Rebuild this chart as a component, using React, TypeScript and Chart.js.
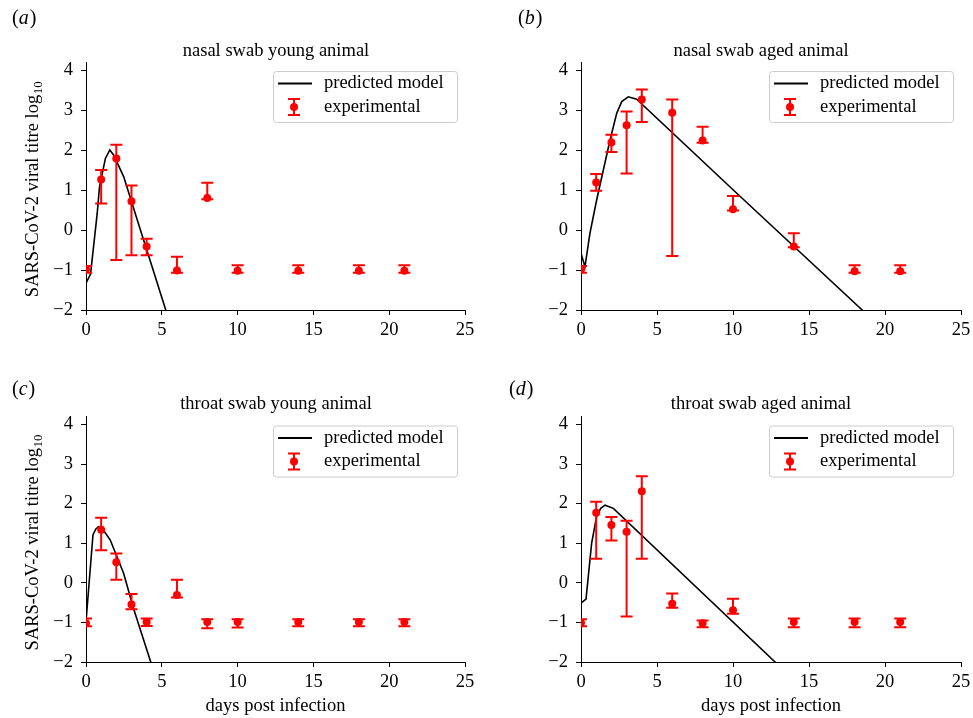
import React, { useEffect, useRef } from "react";
import { Chart, registerables } from "chart.js";

Chart.register(...registerables);

const SERIF = '"Liberation Serif", "DejaVu Serif", "Times New Roman", serif';
const RED = "#ff0000";
const FONT_SIZE = 18.5;

// ---------- shared data ----------
const days = [0, 1, 2, 3, 4, 6, 8, 10, 14, 18, 21];
const xTicks = [0, 5, 10, 15, 20, 25];
const yTicks = [-2, -1, 0, 1, 2, 3, 4];
const legendLabels = ["predicted model", "experimental"];
const xAxisTitle = "days post infection";
const yAxisTitleMain = "SARS-CoV-2 viral titre log";
const yAxisTitleSub = "10";
const panelTitles = [
  "nasal swab young animal",
  "nasal swab aged animal",
  "throat swab young animal",
  "throat swab aged animal",
];
const panelLetters = ["a", "b", "c", "d"];

// ---------- (a) nasal swab young ----------
const nasalYoungMean = [-0.98, 1.26, 1.79, 0.72, -0.41, -1.01, 0.8, -1.02, -1.02, -1.02, -1.02];
const nasalYoungHigh = [-0.9, 1.5, 2.13, 1.11, -0.22, -0.67, 1.18, -0.88, -0.88, -0.88, -0.88];
const nasalYoungLow = [-1.07, 0.66, -0.75, -0.63, -0.63, -1.07, 0.77, -1.07, -1.07, -1.07, -1.07];
const nasalYoungModelX = [0, 0.3, 0.74, 0.89, 1.28, 1.57, 1.83, 2.49, 3.59, 4.36, 5.23, 5.6];
const nasalYoungModelY = [-1.33, -1.1, 0.42, 1.08, 1.79, 2.0, 1.87, 1.33, 0.0, -0.92, -1.96, -2.4];

// ---------- (b) nasal swab aged ----------
const nasalAgedMean = [-0.99, 1.19, 2.19, 2.62, 3.26, 2.93, 2.24, 0.52, -0.41, -1.03, -1.03];
const nasalAgedHigh = [-0.9, 1.4, 2.38, 2.96, 3.51, 3.26, 2.58, 0.85, -0.08, -0.88, -0.88];
const nasalAgedLow = [-1.07, 0.98, 1.95, 1.41, 2.7, -0.65, 2.18, 0.49, -0.43, -1.07, -1.07];
const nasalAgedModelX = [0, 0.26, 0.59, 1.03, 1.47, 1.91, 2.35, 2.68, 3.11, 3.66, 10.02, 18.5, 19.0];
const nasalAgedModelY = [-0.58, -0.92, -0.08, 0.75, 1.5, 2.25, 2.92, 3.21, 3.33, 3.27, 1.0, -2.0, -2.18];

// ---------- (c) throat swab young ----------
const throatYoungMean = [-1.02, 1.34, 0.52, -0.55, -0.99, -0.31, -0.99, -0.99, -0.99, -0.99, -0.99];
const throatYoungHigh = [-0.9, 1.64, 0.74, -0.28, -0.9, 0.08, -0.92, -0.92, -0.92, -0.92, -0.92];
const throatYoungLow = [-1.1, 0.82, 0.08, -0.67, -1.09, -0.37, -1.15, -1.13, -1.1, -1.1, -1.1];
const throatYoungModelX = [0, 0.46, 0.65, 0.83, 1.0, 1.2, 1.6, 2.48, 3.13, 4.27, 4.5];
const throatYoungModelY = [-0.98, 1.21, 1.36, 1.42, 1.4, 1.3, 1.08, 0.24, -0.64, -2.0, -2.28];

// ---------- (d) throat swab aged ----------
const throatAgedMean = [-1.01, 1.77, 1.46, 1.29, 2.31, -0.53, -1.02, -0.69, -0.99, -0.99, -0.99];
const throatAgedHigh = [-0.92, 2.05, 1.66, 1.57, 2.69, -0.27, -0.95, -0.4, -0.9, -0.9, -0.9];
const throatAgedLow = [-1.1, 0.61, 1.07, -0.85, 0.61, -0.63, -1.12, -0.78, -1.12, -1.12, -1.12];
const throatAgedModelX = [0, 0.33, 0.7, 1.03, 1.3, 1.58, 2.13, 12.77, 13.2];
const throatAgedModelY = [-0.51, -0.41, 1.0, 1.68, 1.88, 1.96, 1.88, -2.0, -2.16];

type Box = { left: number; top: number; w: number; h: number };
type Area = { l: number; t: number; r: number; b: number };
type PanelSpec = {
  idx: number;
  mean: number[];
  high: number[];
  low: number[];
  modelX: number[];
  modelY: number[];
  box: Box;
  area: Area;
  showYTitle: boolean;
  showXTitle: boolean;
  labelX: number;
  labelBaseline: number;
  titleX: number;
  titleBaseline: number;
};

const panels: PanelSpec[] = [
  {
    idx: 0, mean: nasalYoungMean, high: nasalYoungHigh, low: nasalYoungLow,
    modelX: nasalYoungModelX, modelY: nasalYoungModelY,
    box: { left: 0, top: 0, w: 486, h: 359 }, area: { l: 86, t: 62, r: 465, b: 310 },
    showYTitle: true, showXTitle: false, labelX: 12, labelBaseline: 24, titleX: 276, titleBaseline: 56,
  },
  {
    idx: 1, mean: nasalAgedMean, high: nasalAgedHigh, low: nasalAgedLow,
    modelX: nasalAgedModelX, modelY: nasalAgedModelY,
    box: { left: 486, top: 0, w: 487, h: 359 }, area: { l: 581, t: 62, r: 961, b: 310 },
    showYTitle: false, showXTitle: false, labelX: 518, labelBaseline: 24, titleX: 761, titleBaseline: 56,
  },
  {
    idx: 2, mean: throatYoungMean, high: throatYoungHigh, low: throatYoungLow,
    modelX: throatYoungModelX, modelY: throatYoungModelY,
    box: { left: 0, top: 359, w: 486, h: 359 }, area: { l: 86, t: 416.5, r: 465, b: 662 },
    showYTitle: true, showXTitle: true, labelX: 12, labelBaseline: 395, titleX: 276, titleBaseline: 409,
  },
  {
    idx: 3, mean: throatAgedMean, high: throatAgedHigh, low: throatAgedLow,
    modelX: throatAgedModelX, modelY: throatAgedModelY,
    box: { left: 486, top: 359, w: 487, h: 359 }, area: { l: 581, t: 416.5, r: 961, b: 662 },
    showYTitle: false, showXTitle: true, labelX: 509, labelBaseline: 395, titleX: 761, titleBaseline: 409,
  },
];

const fmt = (v: number | string) => {
  const n = Number(v);
  return n < 0 ? "\u2212" + Math.abs(n) : String(n);
};

function roundRectPath(ctx: CanvasRenderingContext2D, x: number, y: number, w: number, h: number, r: number) {
  ctx.beginPath();
  ctx.moveTo(x + r, y);
  ctx.lineTo(x + w - r, y);
  ctx.arcTo(x + w, y, x + w, y + r, r);
  ctx.lineTo(x + w, y + h - r);
  ctx.arcTo(x + w, y + h, x + w - r, y + h, r);
  ctx.lineTo(x + r, y + h);
  ctx.arcTo(x, y + h, x, y + h - r, r);
  ctx.lineTo(x, y + r);
  ctx.arcTo(x, y, x + r, y, r);
  ctx.closePath();
}

function drawErrorSymbol(ctx: CanvasRenderingContext2D, px: number, y1: number, y2: number, cap: number) {
  ctx.beginPath();
  ctx.moveTo(px, y1);
  ctx.lineTo(px, y2);
  ctx.moveTo(px - cap, y1);
  ctx.lineTo(px + cap, y1);
  ctx.moveTo(px - cap, y2);
  ctx.lineTo(px + cap, y2);
  ctx.stroke();
}

function Panel({ p }: { p: PanelSpec }) {
  const ref = useRef<HTMLCanvasElement | null>(null);

  useEffect(() => {
    const canvas = ref.current;
    if (!canvas) return;
    const { box, area } = p;
    const font = { family: SERIF, size: FONT_SIZE };

    const overlay = {
      id: "overlay" + p.idx,
      beforeDatasetDraw(chart: any, args: any) {
        if (args.index !== 0) return;
        const { ctx, chartArea: ca, scales } = chart;
        const xs = scales.x;
        const ys = scales.y;
        ctx.save();
        ctx.beginPath();
        ctx.rect(ca.left, ca.top, ca.right - ca.left, ca.bottom - ca.top);
        ctx.clip();
        ctx.strokeStyle = RED;
        ctx.lineWidth = 2;
        days.forEach((d, i) => {
          const px = xs.getPixelForValue(d);
          drawErrorSymbol(ctx, px, ys.getPixelForValue(p.high[i]), ys.getPixelForValue(p.low[i]), 6);
        });
        ctx.restore();
      },
      afterDraw(chart: any) {
        const { ctx, chartArea: ca } = chart;
        ctx.save();
        ctx.fillStyle = "#000";

        // panel title
        ctx.font = `${FONT_SIZE}px ${SERIF}`;
        ctx.textAlign = "center";
        ctx.textBaseline = "alphabetic";
        ctx.fillText(panelTitles[p.idx], p.titleX - box.left, p.titleBaseline - box.top);

        // panel letter "(a)"
        const lx = p.labelX - box.left;
        const ly = p.labelBaseline - box.top;
        ctx.textAlign = "left";
        ctx.font = `20px ${SERIF}`;
        ctx.fillText("(", lx, ly);
        let cx = lx + ctx.measureText("(").width;
        ctx.font = `italic 20px ${SERIF}`;
        ctx.fillText(panelLetters[p.idx], cx, ly);
        cx += ctx.measureText(panelLetters[p.idx]).width + 1;
        ctx.font = `20px ${SERIF}`;
        ctx.fillText(")", cx, ly);

        // y-axis title with subscript
        if (p.showYTitle) {
          ctx.font = `${FONT_SIZE}px ${SERIF}`;
          const w1 = ctx.measureText(yAxisTitleMain).width;
          ctx.font = `13px ${SERIF}`;
          const w2 = ctx.measureText(yAxisTitleSub).width;
          const total = w1 + w2;
          const cy = (ca.top + ca.bottom) / 2 + 3.5;
          ctx.translate(37.5 - box.left, cy);
          ctx.rotate(-Math.PI / 2);
          ctx.textAlign = "left";
          ctx.font = `${FONT_SIZE}px ${SERIF}`;
          ctx.fillText(yAxisTitleMain, -total / 2, 0);
          ctx.font = `13px ${SERIF}`;
          ctx.fillText(yAxisTitleSub, -total / 2 + w1 + 0.5, 4.5);
          ctx.setTransform(1, 0, 0, 1, 0, 0);
        }

        // legend
        const bw = 184;
        const bh = 51;
        const bx = ca.right - 8 - bw;
        const by = ca.top + 9;
        roundRectPath(ctx, bx + 0.5, by + 0.5, bw, bh, 3);
        ctx.fillStyle = "rgba(255,255,255,0.8)";
        ctx.fill();
        ctx.strokeStyle = "#cccccc";
        ctx.lineWidth = 1;
        ctx.stroke();

        const r1 = by + 12.5;
        const r2 = by + 36;
        ctx.strokeStyle = "#000";
        ctx.lineWidth = 2;
        ctx.beginPath();
        ctx.moveTo(bx + 5, r1);
        ctx.lineTo(bx + 39, r1);
        ctx.stroke();

        ctx.strokeStyle = RED;
        ctx.lineWidth = 2;
        drawErrorSymbol(ctx, bx + 21, r2 - 8, r2 + 8, 6);
        ctx.fillStyle = RED;
        ctx.beginPath();
        ctx.arc(bx + 21, r2, 4, 0, Math.PI * 2);
        ctx.fill();

        ctx.fillStyle = "#000";
        ctx.font = `${FONT_SIZE}px ${SERIF}`;
        ctx.textAlign = "left";
        ctx.textBaseline = "middle";
        ctx.fillText(legendLabels[0], bx + 51, r1);
        ctx.fillText(legendLabels[1], bx + 51, r2);
        ctx.restore();
      },
    };

    const axisCommon = {
      grid: {
        display: true,
        drawOnChartArea: false,
        drawTicks: true,
        tickLength: 5,
        tickColor: "#000",
        tickWidth: 1,
        color: "#000",
      },
      border: { display: true, color: "#000", width: 1 },
    };

    const chart = new Chart(canvas, {
      type: "scatter",
      data: {
        datasets: [
          {
            label: legendLabels[1],
            data: days.map((d, i) => ({ x: d, y: p.mean[i] })),
            backgroundColor: RED,
            borderColor: RED,
            borderWidth: 0,
            pointRadius: 4,
            pointHoverRadius: 4,
            showLine: false,
            clip: 0,
            order: 0,
          },
          {
            label: legendLabels[0],
            data: p.modelX.map((x, i) => ({ x, y: p.modelY[i] })),
            borderColor: "#000",
            backgroundColor: "#000",
            borderWidth: 1.6,
            pointRadius: 0,
            pointHoverRadius: 0,
            showLine: true,
            tension: 0,
            clip: 0,
            order: 1,
          },
        ],
      },
      options: {
        responsive: false,
        animation: false,
        devicePixelRatio: 1,
        events: [],
        layout: {
          padding: {
            left: 0,
            top: area.t - box.top,
            right: box.left + box.w - area.r,
            bottom: 0,
          },
        },
        plugins: {
          legend: { display: false },
          tooltip: { enabled: false },
          title: { display: false },
        },
        scales: {
          x: {
            type: "linear",
            min: 0,
            max: 25,
            ...axisCommon,
            afterBuildTicks: (s: any) => {
              s.ticks = xTicks.map((v) => ({ value: v }));
            },
            afterFit: (s: any) => {
              s.height = box.top + box.h - area.b;
              s.paddingLeft = 0;
              s.paddingRight = 0;
            },
            ticks: {
              font,
              color: "#000",
              padding: 4,
              maxRotation: 0,
              autoSkip: false,
              callback: (v: any) => fmt(v),
            },
            title: {
              display: p.showXTitle,
              text: xAxisTitle,
              font,
              color: "#000",
              padding: { top: 0, bottom: 1 },
            },
          },
          y: {
            type: "linear",
            min: -2,
            max: 4.2,
            ...axisCommon,
            afterBuildTicks: (s: any) => {
              s.ticks = yTicks.map((v) => ({ value: v }));
            },
            afterFit: (s: any) => {
              s.width = area.l - box.left;
              s.paddingTop = 0;
              s.paddingBottom = 0;
            },
            ticks: {
              font,
              color: "#000",
              padding: 8,
              autoSkip: false,
              callback: (v: any) => fmt(v),
            },
          },
        },
      } as any,
      plugins: [overlay],
    } as any);

    return () => chart.destroy();
  }, [p]);

  return (
    <canvas
      ref={ref}
      width={p.box.w}
      height={p.box.h}
      style={{
        position: "absolute",
        left: p.box.left,
        top: p.box.top,
        width: p.box.w,
        height: p.box.h,
      }}
    />
  );
}

export default function App() {
  return (
    <div
      style={{
        position: "absolute",
        left: 0,
        top: 0,
        width: 973,
        height: 718,
        background: "#fff",
        overflow: "hidden",
      }}
    >
      {panels.map((p) => (
        <Panel key={p.idx} p={p} />
      ))}
    </div>
  );
}
